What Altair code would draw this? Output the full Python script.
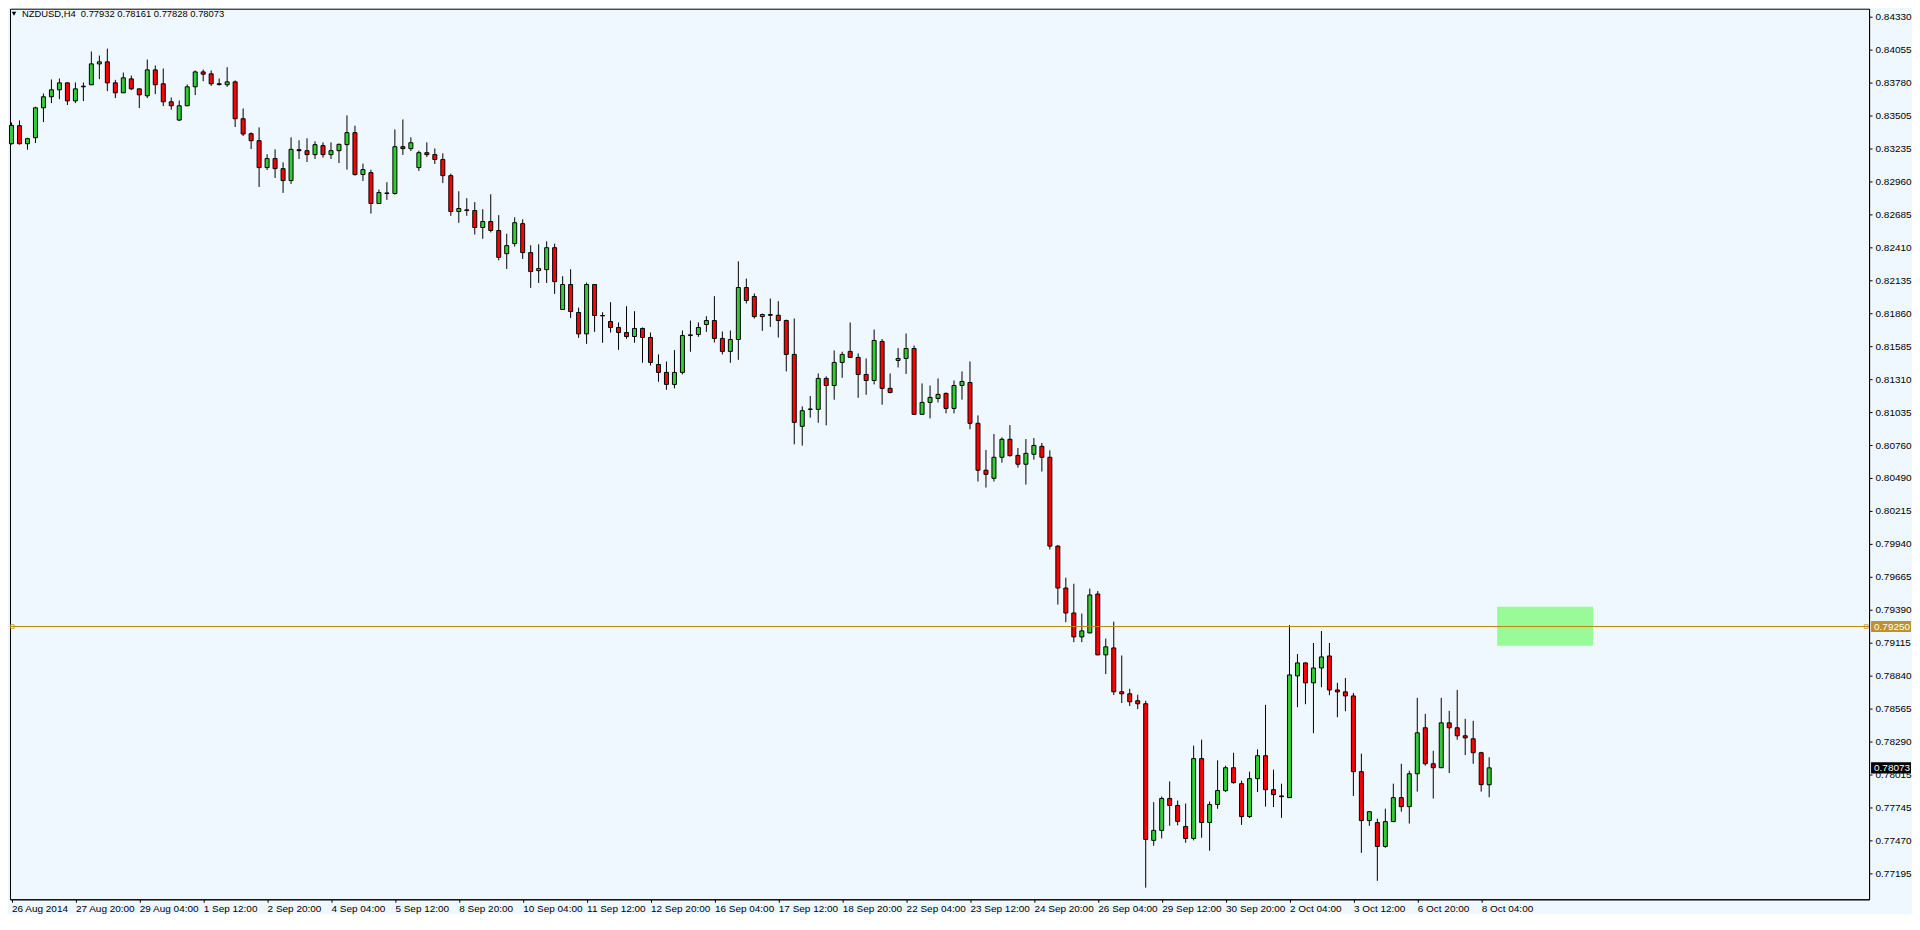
import json
import numpy as np
import pandas as pd
import altair as alt

# ---- candle data (NZDUSD H4, bar index 0 = 26 Aug 2014 12:00) ----
OPEN = [0.83272,0.83422,0.83272,0.83322,0.83571,0.83663,0.83721,0.83779,0.83629,0.83746,
        0.83763,0.83937,0.83954,0.83779,0.83696,0.83812,0.83729,0.83671,0.83887,0.83771,
        0.83621,0.83469,0.83588,0.83746,0.83870,0.83854,0.83771,0.83763,0.83787,0.83480,
        0.83355,0.83297,0.83073,0.83148,0.83064,0.82965,0.83222,0.83214,0.83181,0.83256,
        0.83181,0.83214,0.83264,0.83364,0.83015,0.83031,0.82774,0.82857,0.82857,0.83247,
        0.83231,0.83073,0.83197,0.83181,0.83140,0.83006,0.82707,0.82721,0.82715,0.82574,
        0.82624,0.82549,0.82356,0.82440,0.82606,0.82365,0.82215,0.82223,0.82406,0.81891,
        0.82099,0.81866,0.81688,0.82099,0.81841,0.81791,0.81741,0.81699,0.81666,0.81733,
        0.81658,0.81433,0.81367,0.81267,0.81367,0.81674,0.81683,0.81766,0.81799,0.81650,
        0.81542,0.81641,0.82074,0.81999,0.81832,0.81849,0.81843,0.81799,0.81517,0.80918,
        0.81059,0.81059,0.81317,0.81258,0.81450,0.81542,0.81492,0.81350,0.81300,0.81625,
        0.81234,0.81467,0.81483,0.81566,0.81018,0.81117,0.81150,0.81192,0.81067,0.81258,
        0.81283,0.80943,0.80552,0.80485,0.80660,0.80810,0.80676,0.80602,0.80685,0.80751,
        0.80660,0.79920,0.79571,0.79363,0.79164,0.79197,0.79521,0.79014,0.79072,0.78707,
        0.78690,0.78632,0.78607,0.77469,0.77552,0.77818,0.77760,0.77585,0.77485,0.78150,
        0.77618,0.77768,0.77883,0.78074,0.77941,0.77667,0.77983,0.78174,0.77891,0.77839,
        0.77825,0.78839,0.78947,0.78781,0.78905,0.79005,0.78722,0.78706,0.78672,0.78041,
        0.77634,0.77617,0.77418,0.77625,0.77825,0.77750,0.78024,0.78407,0.78107,0.78074,
        0.78448,0.78407,0.78340,0.78315,0.78199,0.77932]
HIGH = [0.83449,0.83466,0.83322,0.83580,0.83690,0.83807,0.83815,0.83782,0.83782,0.83782,
        0.84040,0.84006,0.84064,0.83804,0.83865,0.83840,0.83731,0.83973,0.83923,0.83898,
        0.83657,0.83632,0.83765,0.83882,0.83890,0.83882,0.83815,0.83909,0.83799,0.83566,
        0.83366,0.83408,0.83184,0.83225,0.83117,0.83325,0.83300,0.83317,0.83292,0.83283,
        0.83283,0.83272,0.83508,0.83422,0.83106,0.83056,0.82890,0.82951,0.83391,0.83474,
        0.83325,0.83214,0.83283,0.83233,0.83192,0.83023,0.82876,0.82818,0.82785,0.82726,
        0.82851,0.82677,0.82522,0.82659,0.82642,0.82426,0.82434,0.82459,0.82439,0.82168,
        0.82226,0.81907,0.82115,0.82102,0.81868,0.81952,0.81783,0.81918,0.81877,0.81741,
        0.81699,0.81517,0.81458,0.81553,0.81716,0.81799,0.81783,0.81835,0.82002,0.81708,
        0.81716,0.82292,0.82148,0.82024,0.81857,0.81982,0.81960,0.81807,0.81816,0.81084,
        0.81170,0.81358,0.81334,0.81550,0.81539,0.81783,0.81525,0.81483,0.81724,0.81644,
        0.81358,0.81569,0.81691,0.81591,0.81275,0.81258,0.81317,0.81200,0.81300,0.81375,
        0.81458,0.81009,0.80721,0.80854,0.80826,0.80928,0.80737,0.80812,0.80820,0.80779,
        0.80718,0.79928,0.79657,0.79607,0.79358,0.79566,0.79546,0.79150,0.79291,0.79009,
        0.78732,0.78682,0.78632,0.77787,0.77834,0.77960,0.77801,0.77776,0.78258,0.78308,
        0.77793,0.78136,0.78091,0.78199,0.77966,0.78041,0.78227,0.78598,0.78058,0.77941,
        0.79262,0.79021,0.78950,0.79113,0.79213,0.79113,0.78781,0.78822,0.78697,0.78191,
        0.77710,0.77650,0.77733,0.77941,0.78107,0.78049,0.78656,0.78523,0.78215,0.78656,
        0.78548,0.78722,0.78481,0.78465,0.78207,0.78161]
LOW = [0.83265,0.83265,0.83222,0.83278,0.83452,0.83610,0.83643,0.83594,0.83610,0.83627,
       0.83760,0.83810,0.83710,0.83652,0.83694,0.83718,0.83569,0.83652,0.83685,0.83585,
       0.83555,0.83461,0.83586,0.83677,0.83793,0.83754,0.83757,0.83746,0.83411,0.83336,
       0.83228,0.82912,0.83053,0.82987,0.82862,0.82937,0.83145,0.83120,0.83145,0.83156,
       0.83145,0.83111,0.83056,0.83006,0.82962,0.82690,0.82772,0.82804,0.82848,0.83178,
       0.83211,0.83045,0.83161,0.83103,0.82945,0.82671,0.82613,0.82671,0.82516,0.82480,
       0.82533,0.82300,0.82229,0.82415,0.82312,0.82071,0.82112,0.82112,0.82021,0.81889,
       0.81821,0.81655,0.81605,0.81705,0.81614,0.81699,0.81555,0.81647,0.81614,0.81447,
       0.81425,0.81289,0.81222,0.81234,0.81350,0.81539,0.81663,0.81705,0.81617,0.81517,
       0.81447,0.81472,0.81941,0.81816,0.81713,0.81746,0.81658,0.81375,0.80768,0.80757,
       0.80990,0.80948,0.80926,0.81140,0.81322,0.81490,0.81156,0.81181,0.81267,0.81098,
       0.81192,0.81408,0.81355,0.81015,0.81016,0.80984,0.81117,0.81026,0.81026,0.81140,
       0.80893,0.80458,0.80408,0.80458,0.80615,0.80665,0.80574,0.80433,0.80640,0.80541,
       0.79892,0.79433,0.79286,0.79120,0.79120,0.79195,0.79012,0.78854,0.78679,0.78613,
       0.78588,0.78563,0.77075,0.77424,0.77485,0.77591,0.77594,0.77449,0.77469,0.77491,
       0.77383,0.77732,0.77872,0.77941,0.77598,0.77656,0.77872,0.77750,0.77747,0.77656,
       0.77823,0.78578,0.78603,0.78362,0.78744,0.78678,0.78495,0.78545,0.77839,0.77365,
       0.77590,0.77132,0.77407,0.77623,0.77708,0.77609,0.77875,0.78091,0.77817,0.78072,
       0.78030,0.78307,0.78179,0.78107,0.77875,0.77828]
CLOSE = [0.83425,0.83272,0.83314,0.83571,0.83663,0.83721,0.83779,0.83629,0.83729,0.83751,
         0.83937,0.83954,0.83779,0.83696,0.83821,0.83729,0.83679,0.83887,0.83763,0.83621,
         0.83588,0.83588,0.83746,0.83870,0.83851,0.83771,0.83765,0.83787,0.83480,0.83353,
         0.83297,0.83073,0.83148,0.83064,0.82965,0.83225,0.83214,0.83181,0.83264,0.83181,
         0.83214,0.83267,0.83364,0.83015,0.83056,0.82774,0.82865,0.82862,0.83247,0.83231,
         0.83280,0.83197,0.83181,0.83140,0.83006,0.82707,0.82732,0.82715,0.82574,0.82624,
         0.82549,0.82325,0.82423,0.82614,0.82365,0.82207,0.82232,0.82406,0.82123,0.82099,
         0.81874,0.81688,0.82099,0.81841,0.81838,0.81741,0.81699,0.81666,0.81733,0.81658,
         0.81450,0.81367,0.81267,0.81367,0.81674,0.81680,0.81741,0.81799,0.81650,0.81542,
         0.81641,0.82074,0.81966,0.81832,0.81849,0.81843,0.81799,0.81517,0.80951,0.81048,
         0.81062,0.81317,0.81258,0.81450,0.81517,0.81492,0.81350,0.81300,0.81633,0.81234,
         0.81200,0.81483,0.81566,0.81018,0.81117,0.81159,0.81184,0.81067,0.81258,0.81292,
         0.80943,0.80552,0.80518,0.80660,0.80810,0.80674,0.80602,0.80693,0.80759,0.80660,
         0.79920,0.79571,0.79363,0.79164,0.79214,0.79513,0.79014,0.79081,0.78707,0.78690,
         0.78624,0.78607,0.77477,0.77552,0.77818,0.77760,0.77627,0.77485,0.78150,0.77618,
         0.77768,0.77884,0.78074,0.77950,0.77667,0.77983,0.78174,0.77891,0.77850,0.77833,
         0.78847,0.78947,0.78781,0.78905,0.78997,0.78722,0.78706,0.78672,0.78041,0.77634,
         0.77708,0.77418,0.77625,0.77825,0.77750,0.78024,0.78365,0.78107,0.78074,0.78448,
         0.78407,0.78340,0.78323,0.78199,0.77933,0.78073]

X_TICKS = list(range(0, 185, 8))
X_LABELS = ["26 Aug 2014", "27 Aug 20:00", "29 Aug 04:00", "1 Sep 12:00", "2 Sep 20:00",
            "4 Sep 04:00", "5 Sep 12:00", "8 Sep 20:00", "10 Sep 04:00", "11 Sep 12:00",
            "12 Sep 20:00", "16 Sep 04:00", "17 Sep 12:00", "18 Sep 20:00", "22 Sep 04:00",
            "23 Sep 12:00", "24 Sep 20:00", "26 Sep 04:00", "29 Sep 12:00", "30 Sep 20:00",
            "2 Oct 04:00", "3 Oct 12:00", "6 Oct 20:00", "8 Oct 04:00"]
Y_TICKS = [0.84330, 0.84055, 0.83780, 0.83505, 0.83235, 0.82960, 0.82685, 0.82410,
           0.82135, 0.81860, 0.81585, 0.81310, 0.81035, 0.80760, 0.80490, 0.80215,
           0.79940, 0.79665, 0.79390, 0.79115, 0.78840, 0.78565, 0.78290, 0.78015,
           0.77745, 0.77470, 0.77195]

HLINE_PRICE = 0.79250
LAST_PRICE = 0.78073
ZONE = {"x0": 186, "x1": 198, "p0": 0.79090, "p1": 0.79415}
TITLE = "NZDUSD,H4\u00a0\u00a00.77932 0.78161 0.77828 0.78073"

FONT = "Liberation Sans"
BG = "#F0F8FF"
GREEN = "#32CD32"
RED = "#FF0000"
GOLD_LINE = "#B8860B"
GOLD_BOX = "#C29125"

W, H = 1862, 892

df = pd.DataFrame({"i": np.arange(len(OPEN)), "o": OPEN, "h": HIGH, "l": LOW, "c": CLOSE})
df["dir"] = np.where(df["c"] >= df["o"], "up", "down")

xs = alt.Scale(domain=[-0.1875, 232.5625], nice=False, zero=False)
ys = alt.Scale(domain=[0.76978, 0.843965], nice=False, zero=False)

xaxis = alt.Axis(values=X_TICKS, labelExpr=f"{json.dumps(X_LABELS)}[round(datum.value / 8)]",
                 title=None, grid=False, labelAlign="left", labelPadding=1,
                 tickSize=3, labelFlush=False, labelOverlap=False, labelFont=FONT,
                 labelFontSize=10, labelColor="black", tickColor="black", domainColor="black")
yaxis = alt.Axis(values=Y_TICKS, format=".5f", orient="right", title=None, grid=False,
                 tickSize=3, labelPadding=3, labelFlush=False, labelOverlap=False,
                 labelFont=FONT, labelFontSize=10, labelColor="black", tickColor="black",
                 domainColor="black")

base = alt.Chart(df)

wicks = base.mark_rule(color="black", strokeWidth=1).encode(
    x=alt.X("i:Q", scale=xs, axis=xaxis),
    y=alt.Y("l:Q", scale=ys, axis=yaxis),
    y2="h:Q",
)

bodies = base.transform_calculate(
    xa="datum.i - 0.25", xb="datum.i + 0.25"
).mark_rect(stroke="black", strokeWidth=1).encode(
    x=alt.X("xa:Q", scale=xs, axis=xaxis),
    x2="xb:Q",
    y=alt.Y("o:Q", scale=ys, axis=yaxis),
    y2="c:Q",
    fill=alt.Fill("dir:N", scale=alt.Scale(domain=["up", "down"], range=[GREEN, RED]), legend=None),
)

zone = alt.Chart(pd.DataFrame([ZONE])).mark_rect(color="#98FB98", opacity=1).encode(
    x=alt.X("x0:Q", scale=xs, axis=xaxis), x2="x1:Q",
    y=alt.Y("p0:Q", scale=ys, axis=yaxis), y2="p1:Q",
)

hline_df = pd.DataFrame({"p": [HLINE_PRICE]})
hline = alt.Chart(hline_df).mark_rule(color=GOLD_LINE, strokeWidth=1).encode(
    y=alt.Y("p:Q", scale=ys, axis=yaxis)
)

anchors = alt.Chart(pd.DataFrame({"i": [0.1, 232.2], "p": [HLINE_PRICE, HLINE_PRICE]})).mark_point(
    shape="square", filled=False, color=GOLD_LINE, size=14, strokeWidth=1
).encode(
    x=alt.X("i:Q", scale=xs, axis=xaxis),
    y=alt.Y("p:Q", scale=ys, axis=yaxis),
)

lab_df = pd.DataFrame({
    "p": [HLINE_PRICE, LAST_PRICE],
    "t": ["0.79250", "0.78073"],
    "bg": [GOLD_BOX, "#000000"],
})
lab_boxes = alt.Chart(lab_df).transform_calculate(
    pa="datum.p + 0.00046", pb="datum.p - 0.00046"
).mark_rect(clip=False).encode(
    x=alt.value(W + 2), x2=alt.value(W + 42),
    y=alt.Y("pa:Q", scale=ys, axis=yaxis), y2="pb:Q",
    fill=alt.Fill("bg:N", scale=None),
)
lab_text = alt.Chart(lab_df).mark_text(
    align="left", baseline="middle", color="white", font=FONT, fontSize=10, clip=False
).encode(
    x=alt.value(W + 5),
    y=alt.Y("p:Q", scale=ys, axis=yaxis),
    text="t:N",
)

title_df = pd.DataFrame({"t": [TITLE]})
title_txt = alt.Chart(title_df).mark_text(
    align="left", baseline="middle", color="black", font=FONT, fontSize=9.4
).encode(x=alt.value(12), y=alt.value(5), text="t:N")
tri = alt.Chart(title_df).mark_point(
    shape="triangle-down", filled=True, color="black", size=20, opacity=1
).encode(x=alt.value(4), y=alt.value(5))

chart = alt.layer(zone, wicks, bodies, hline, anchors, lab_boxes, lab_text, title_txt, tri).properties(
    width=W, height=H,
    background=BG,
    padding=0,
).configure_view(
    fill=BG, stroke="black", strokeWidth=1
)

chart.save("out.html", embed_options={"renderer": "svg", "actions": False})
